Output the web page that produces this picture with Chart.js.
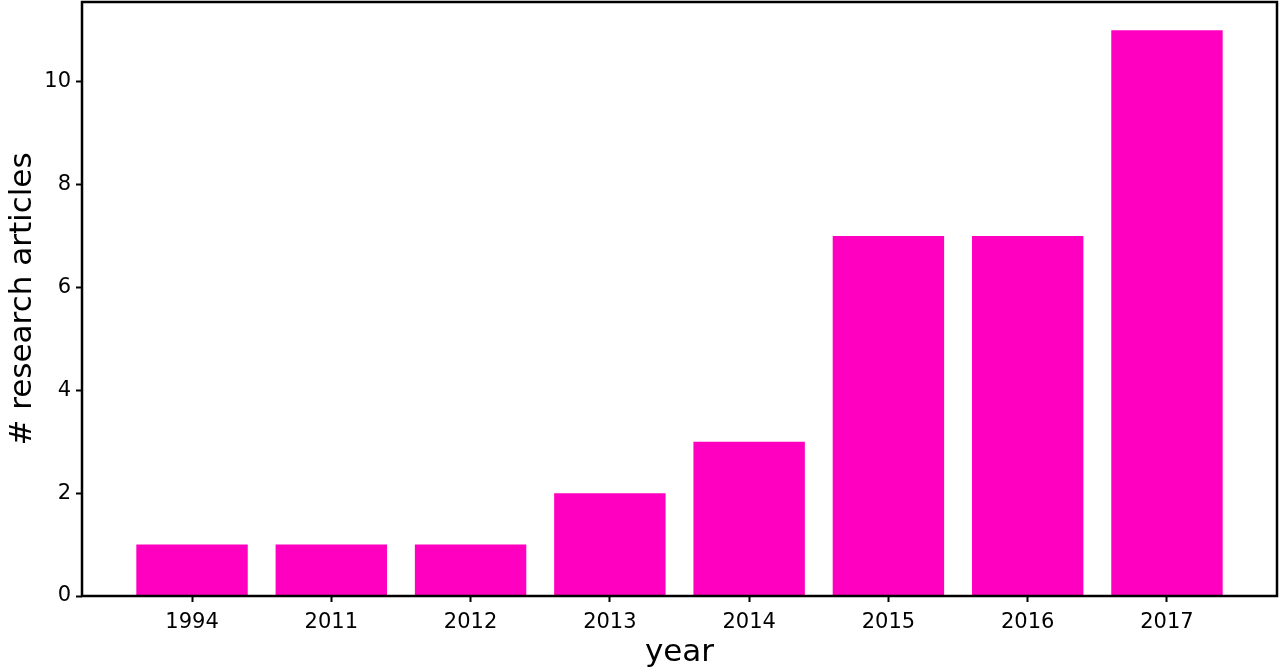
<!DOCTYPE html>
<html>
<head>
<meta charset="utf-8">
<script src="https://cdn.jsdelivr.net/npm/chart.js@4/dist/chart.umd.min.js"></script>
<style>
html, body { margin: 0; padding: 0; background: #fff; }
#wrap { width: 1280px; height: 672px; position: relative; }
</style>
</head>
<body>
<div id="wrap"><canvas id="chart" width="1280" height="672"></canvas></div>
<script>
const years = ["1994", "2011", "2012", "2013", "2014", "2015", "2016", "2017"];
const articles = [1, 1, 1, 2, 3, 7, 7, 11];
const yTicks = [0, 2, 4, 6, 8, 10];

const font = "'DejaVu Sans', sans-serif";

// black frame round the plot area, like the matplotlib axes box
const frame = {
    id: "frame",
    afterDraw(chart) {
        const { ctx, chartArea: a } = chart;
        ctx.save();
        ctx.strokeStyle = "#000";
        ctx.lineWidth = 2.5;
        ctx.strokeRect(a.left, a.top, a.right - a.left, a.bottom - a.top);
        ctx.restore();
    }
};

new Chart(document.getElementById("chart"), {
    type: "bar",
    data: {
        datasets: [{
            data: articles.map((v, i) => ({ x: i, y: v })),
            backgroundColor: "#FF00C0",
            borderWidth: 0,
            barPercentage: 0.8,
            categoryPercentage: 1.0,
        }]
    },
    plugins: [frame],
    options: {
        responsive: false,
        animation: false,
        layout: { padding: { top: 2, right: 3, left: 0, bottom: 0 } },
        plugins: {
            legend: { display: false },
            tooltip: { enabled: false },
        },
        scales: {
            x: {
                type: "linear",
                offset: false,
                min: -0.79,
                max: 7.79,
                afterBuildTicks: s => { s.ticks = years.map((y, i) => ({ value: i })); },
                afterFit: s => { s.height = 76; s.paddingLeft = 0; s.paddingRight = 0; },
                grid: { display: true, offset: false, drawOnChartArea: false, drawTicks: true, tickLength: 6, tickColor: "#000", tickWidth: 2 },
                border: { display: false },
                ticks: {
                    color: "#000",
                    font: { family: font, size: 21 },
                    padding: 8,
                    maxRotation: 0,
                    autoSkip: false,
                    callback: v => years[v],
                },
                title: {
                    display: true,
                    text: "year",
                    color: "#000",
                    font: { family: font, size: 31 },
                    padding: { top: 11, bottom: 0 },
                },
            },
            y: {
                min: 0,
                max: 11.55,
                afterBuildTicks: s => { s.ticks = yTicks.map(v => ({ value: v })); },
                afterFit: s => { s.width = 82; s.paddingTop = 0; s.paddingBottom = 0; },
                grid: { display: true, drawOnChartArea: false, drawTicks: true, tickLength: 6, tickColor: "#000", tickWidth: 2 },
                border: { display: false },
                ticks: {
                    color: "#000",
                    font: { family: font, size: 21 },
                    padding: 5,
                },
                title: {
                    display: true,
                    text: "# research articles",
                    color: "#000",
                    font: { family: font, size: 31 },
                    padding: { top: 4, bottom: 8 },
                },
            },
        },
    },
});
</script>
</body>
</html>
